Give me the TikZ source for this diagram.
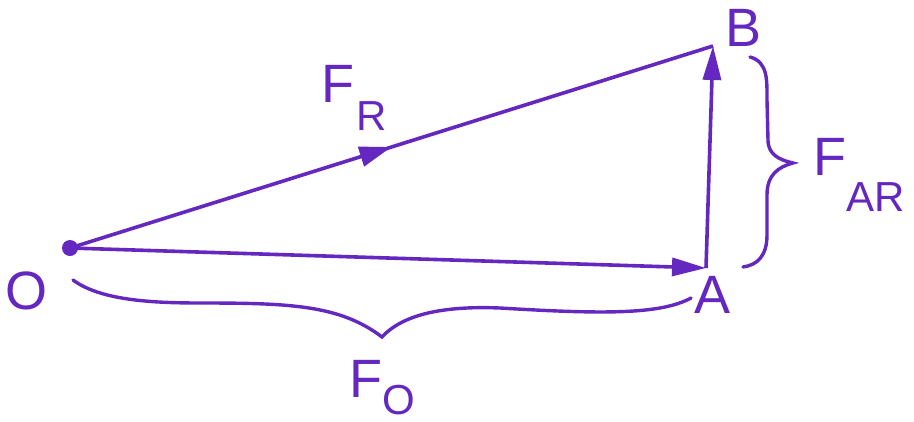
\documentclass[tikz,border=0pt]{standalone}
\usepackage{fontspec}
\setmainfont{Liberation Sans}
\usetikzlibrary{arrows.meta,decorations.markings}
\definecolor{vio}{RGB}{100,40,192}
\newcommand{\subfnt}{\fontsize{42}{42}\selectfont}
\tikzset{
  vec/.style={draw=vio, line width=3.6pt},
  tip/.style={-{Triangle[length=34pt,width=18pt]}},
  brc/.style={draw=vio, line width=3.4pt, line cap=round},
  lbl/.style={text=vio, inner sep=0pt, font=\fontsize{54}{54}\selectfont}
}
\begin{document}
\begin{tikzpicture}[x=1pt,y=-1pt]
\useasboundingbox[fill=white] (0,0) rectangle (914,421);
% points
\coordinate (O) at (70,248);
\coordinate (A) at (706,268);
\coordinate (B) at (713,46);
% vectors
\draw[vec, postaction={decorate}, decoration={markings, mark=at position 0.5 with {\arrow{Triangle[length=32pt,width=20pt]}}}, color=vio] (O) -- (B);
\draw[vec, tip, color=vio] (O) -- (A);
\draw[vec, tip, color=vio] (A) -- (B);
\fill[vio] (O) circle (8pt);
% braces
\draw[brc] (750,57) .. controls (768,62) and (767,80) .. (767,100) -- (768,140) .. controls (768,155) and (780,160) .. (793,163) .. controls (778,167) and (767,175) .. (767,195) -- (767,235) .. controls (767,255) and (758,265) .. (743,267);
\draw[brc] (73,280) .. controls (100,300) and (150,303) .. (200,303) .. controls (290,303) and (340,305) .. (382,337) .. controls (405,312) and (450,306) .. (500,308) .. controls (600,314) and (660,315) .. (691,298);
% labels
\node[lbl] (lO) at (27,291) {O};
\node[lbl] (lA) at (713,295) {A};
\node[lbl] (lB) at (744,28) {B};
\node[lbl, anchor=base west] (lFR) at (321,102) {F\kern2pt\raisebox{-28pt}{\subfnt R}};
\node[lbl, anchor=base west] (lFO) at (349,397) {F\raisebox{-17pt}{\subfnt O}};
\node[lbl, anchor=base west] (lFAR) at (813,175) {F\raisebox{-36pt}{\subfnt AR}};
\end{tikzpicture}
\end{document}
